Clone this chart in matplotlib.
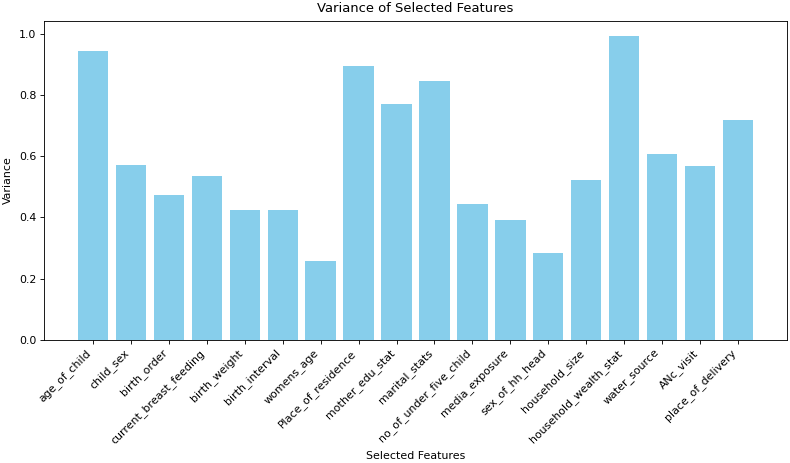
import numpy as np
import matplotlib
matplotlib.use('Agg')
import matplotlib.pyplot as plt

features = ['age_of_child', 'child_sex', 'birth_order', 'current_breast_feeding',
            'birth_weight', 'birth_interval', 'womens_age', 'Place_of_residence',
            'mother_edu_stat', 'marital_stats', 'no_of_under_five_child',
            'media_exposure', 'sex_of_hh_head', 'household_size',
            'household_wealth_stat', 'water_source', 'ANc_visit', 'place_of_delivery']
variances = [0.943, 0.570, 0.475, 0.537, 0.423, 0.423, 0.257, 0.896, 0.772,
             0.847, 0.443, 0.392, 0.284, 0.523, 0.994, 0.608, 0.569, 0.720]

s = 0.79  # screenshot scale
plt.rcParams['font.size'] = 10 * s
plt.rcParams['axes.linewidth'] = 0.8 * s
plt.rcParams['xtick.major.size'] = 3.5 * s
plt.rcParams['ytick.major.size'] = 3.5 * s
plt.rcParams['xtick.major.width'] = 0.8 * s
plt.rcParams['ytick.major.width'] = 0.8 * s
plt.rcParams['xtick.major.pad'] = 3.5 * s
plt.rcParams['ytick.major.pad'] = 3.5 * s

fig = plt.figure(figsize=(7.9, 4.63), dpi=100)
fig.subplots_adjust(left=0.0557, right=0.9962, top=0.9553, bottom=0.2663)
ax = fig.gca()

ax.bar(features, variances, color='skyblue')
ax.set_title('Variance of Selected Features', fontsize=12 * s)
ax.set_xlabel('Selected Features')
ax.set_ylabel('Variance')
plt.xticks(rotation=45, ha='right')

fig.savefig('out.png', dpi=100)
